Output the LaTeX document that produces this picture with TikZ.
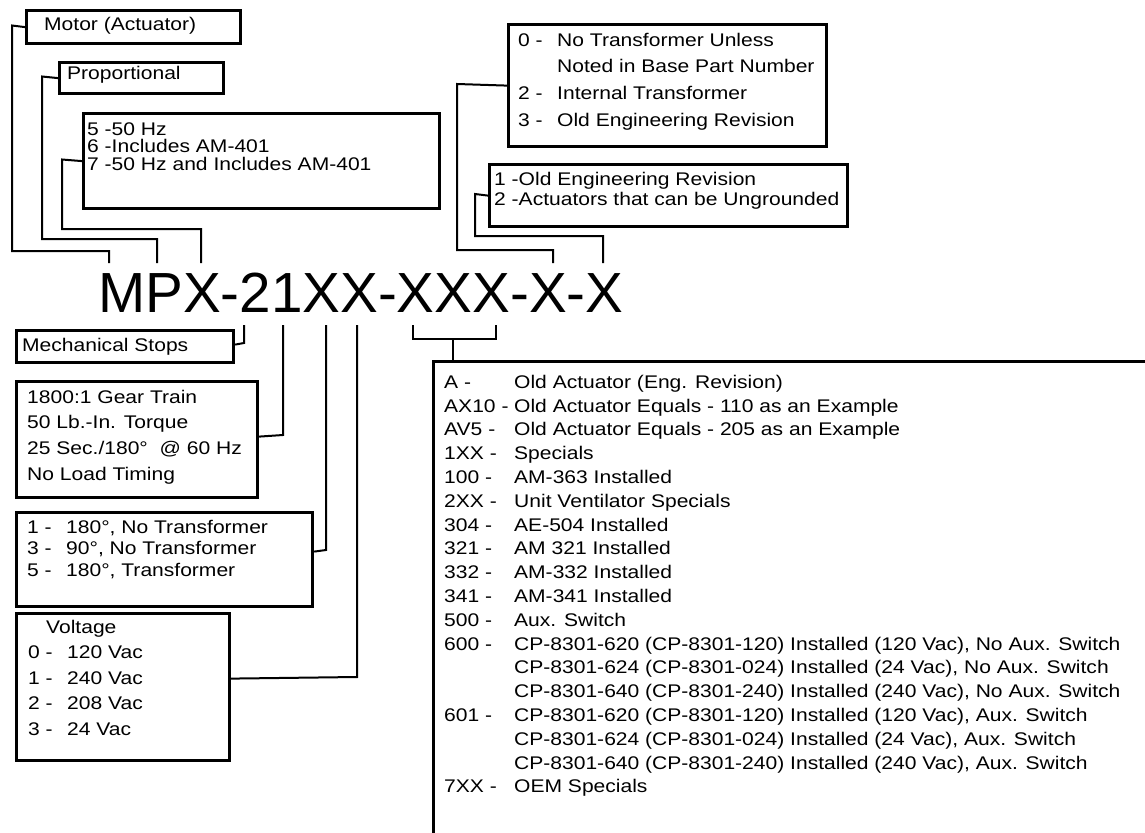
\documentclass[tikz,border=0pt]{standalone}
\usepackage{fontspec}
\setmainfont{Liberation Sans}
\newfontfamily\labfont{Liberation Sans}[FakeStretch=1.15]
\newcommand\lbl[2]{\makebox[#1pt][l]{#2}}
\begin{document}
\begin{tikzpicture}[x=1pt,y=-1pt,
  box/.style={draw, line width=3.2pt, inner sep=0pt, anchor=north west},
  conn/.style={line width=2pt},
  txt/.style={inner sep=0pt, anchor=north west, align=left},
  lab/.style={txt, font=\labfont\fontsize{18.3}{#1}\selectfont},
]
\useasboundingbox (0,0) rectangle (1145,832);
\clip (0,0) rectangle (1145,832);

% ---- boxes ----
\node[box, minimum width=214pt, minimum height=33pt] (mot) at (25,9) {};
\node[box, minimum width=164pt, minimum height=31pt] (prop) at (58,61) {};
\node[box, minimum width=356pt, minimum height=95pt] (hz) at (82,112) {};
\node[box, minimum width=318pt, minimum height=122pt] (tra) at (507,23) {};
\node[box, minimum width=358pt, minimum height=62pt] (trb) at (488,163) {};
\node[box, minimum width=217pt, minimum height=32pt] (mech) at (15,329) {};
\node[box, minimum width=241pt, minimum height=116pt] (gear) at (15,380) {};
\node[box, minimum width=296pt, minimum height=94pt] (deg) at (15,511) {};
\node[box, minimum width=213pt, minimum height=147pt] (volt) at (15,612) {};
\node[box, minimum width=714pt, minimum height=520pt] (big) at (432,360) {};

% ---- texts ----
\node[lab=20] (mott) at (44,16) {\rule{0pt}{14pt}Motor (Actuator)};
\node[lab=20] (propt) at (67,65) {\rule{0pt}{14pt}Proportional};
\node[lab=17.5] (hzt) at (87,121) {\rule{0pt}{14pt}5 -50 Hz\\6 -Includes AM-401\\7 -50 Hz and Includes AM-401};
\node[lab=26.7] (trat) at (518,32) {\rule{0pt}{14pt}\lbl{39}{0 -}No Transformer Unless\\
  \hspace*{39pt}Noted in Base Part Number\\
  \lbl{39}{2 -}Internal Transformer\\
  \lbl{39}{3 -}Old Engineering Revision};
\node[lab=20] (trbt) at (494,171) {\rule{0pt}{14pt}1 -Old Engineering Revision\\2 -Actuators that can be Ungrounded};
\node[lab=20] (mecht) at (22,337) {\rule{0pt}{14pt}Mechanical Stops};
\node[lab=25.7] (geart) at (27,389) {\rule{0pt}{14pt}1800:1 Gear Train\\50 Lb.-In. Torque\\25 Sec./180\textdegree\ \ @ 60 Hz\\No Load Timing};
\node[lab=21.7] (degt) at (27,519) {\rule{0pt}{14pt}\lbl{39}{1 -}180\textdegree, No Transformer\\
  \lbl{39}{3 -}90\textdegree, No Transformer\\
  \lbl{39}{5 -}180\textdegree, Transformer};
\node[lab=25.5] (voltt) at (28,619) {\rule{0pt}{14pt}\hspace*{18pt}Voltage\\
  \lbl{39}{0 -}120 Vac\\
  \lbl{39}{1 -}240 Vac\\
  \lbl{39}{2 -}208 Vac\\
  \lbl{39}{3 -}24 Vac};
\node[lab=23.8] (bigt) at (444,374) {\rule{0pt}{14pt}\lbl{70}{A -}Old Actuator (Eng. Revision)\\
  \lbl{70}{AX10 -}Old Actuator Equals - 110 as an Example\\
  \lbl{70}{AV5 -}Old Actuator Equals - 205 as an Example\\
  \lbl{70}{1XX -}Specials\\
  \lbl{70}{100 -}AM-363 Installed\\
  \lbl{70}{2XX -}Unit Ventilator Specials\\
  \lbl{70}{304 -}AE-504 Installed\\
  \lbl{70}{321 -}AM 321 Installed\\
  \lbl{70}{332 -}AM-332 Installed\\
  \lbl{70}{341 -}AM-341 Installed\\
  \lbl{70}{500 -}Aux. Switch\\
  \lbl{70}{600 -}CP-8301-620 (CP-8301-120) Installed (120 Vac), No Aux. Switch\\
  \hspace*{70pt}CP-8301-624 (CP-8301-024) Installed (24 Vac), No Aux. Switch\\
  \hspace*{70pt}CP-8301-640 (CP-8301-240) Installed (240 Vac), No Aux. Switch\\
  \lbl{70}{601 -}CP-8301-620 (CP-8301-120) Installed (120 Vac), Aux. Switch\\
  \hspace*{70pt}CP-8301-624 (CP-8301-024) Installed (24 Vac), Aux. Switch\\
  \hspace*{70pt}CP-8301-640 (CP-8301-240) Installed (240 Vac), Aux. Switch\\
  \lbl{70}{7XX -}OEM Specials};

% ---- part number ----
\node[inner sep=0pt, anchor=base west, font=\fontsize{56.6}{60}\selectfont] (mpx) at (98,312) {MPX-21XX-XXX-X-X};

% ---- connector ends at the part number ----
\coordinate (s1) at (109,263);
\coordinate (s2) at (157,263);
\coordinate (s3) at (201,263);
\coordinate (s4) at (553,263);
\coordinate (s5) at (603,263);
\coordinate (b1) at (244,325);
\coordinate (b2) at (283,325);
\coordinate (b3) at (326,325);
\coordinate (b4) at (357,325);
\coordinate (bl) at (413,325);
\coordinate (br) at (496,325);
\coordinate (bm) at (453,339);

% ---- connectors above ----
\draw[conn] (mot.west) -- (12,25.5) -- (12,251) -- (109,251) -- (s1);
\draw[conn] (prop.west) -- (42,76.5) -- (42,239) -- (157,239) -- (s2);
\draw[conn] (hz.west) -- (62,159.5) -- (62,229) -- (201,229) -- (s3);
\draw[conn] (tra.west) -- (457,84) -- (457,250) -- (553,250) -- (s4);
\draw[conn] (trb.west) -- (475,194) -- (475,236) -- (603,236) -- (s5);

% ---- connectors below ----
\draw[conn] ([yshift=2pt]mech.east) -- (244,343) -- (b1);
\draw[conn] ([yshift=3pt]gear.east) -- (283,435) -- (b2);
\draw[conn] ([yshift=8pt]deg.east) -- (326,550) -- (b3);
\draw[conn] ([yshift=8.5pt]volt.east) -- (357,677) -- (b4);
\draw[conn] (bl) -- (413,339) -- (496,339) -- (br);
\draw[conn] (bm) -- (bm |- big.north);
\end{tikzpicture}
\end{document}
